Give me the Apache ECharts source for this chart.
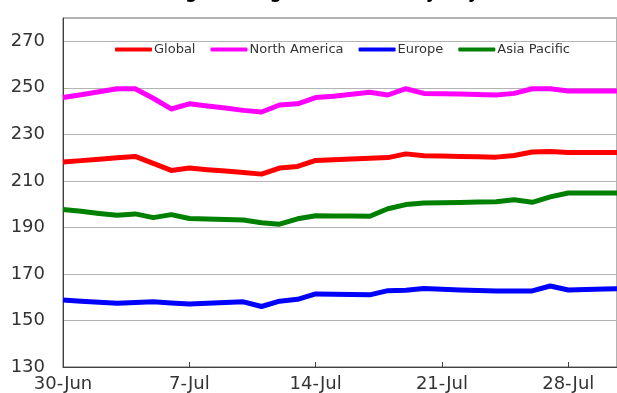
<!DOCTYPE html>
<html>
<head>
<meta charset="utf-8">
<script src="https://cdn.jsdelivr.net/npm/echarts@6/dist/echarts.min.js"></script>
<style>
  html, body { margin: 0; padding: 0; background: #fff; }
  #chart { width: 617px; height: 393px; }
</style>
</head>
<body>
<div id="chart"></div>
<script>
// Daily observation dates
const dates = [
  '2015-06-30','2015-07-01','2015-07-02','2015-07-03','2015-07-04','2015-07-05','2015-07-06','2015-07-07',
  '2015-07-08','2015-07-09','2015-07-10','2015-07-11','2015-07-12','2015-07-13','2015-07-14','2015-07-15',
  '2015-07-16','2015-07-17','2015-07-18','2015-07-19','2015-07-20','2015-07-21','2015-07-22','2015-07-23',
  '2015-07-24','2015-07-25','2015-07-26','2015-07-27','2015-07-28','2015-07-29','2015-07-30','2015-07-31'
];

const seriesNames = ['Global', 'North America', 'Europe', 'Asia Pacific'];

const globalValues = [
  218.1, 218.7, 219.3, 219.9, 220.5, 217.5, 214.5, 215.5,
  214.8, 214.2, 213.6, 212.9, 215.5, 216.2, 218.8, 219.1,
  219.4, 219.7, 220.0, 221.6, 220.8, 220.7, 220.5, 220.4,
  220.2, 220.9, 222.4, 222.6, 222.2, 222.2, 222.2, 222.2
];

const northAmericaValues = [
  245.8, 247.0, 248.3, 249.6, 249.6, 245.5, 240.9, 243.1,
  242.2, 241.3, 240.3, 239.6, 242.6, 243.1, 245.8, 246.4,
  247.2, 248.1, 246.9, 249.6, 247.6, 247.4, 247.3, 247.1,
  246.9, 247.6, 249.6, 249.6, 248.6, 248.6, 248.6, 248.6
];

const europeValues = [
  158.8, 158.3, 157.8, 157.4, 157.7, 158.0, 157.5, 157.1,
  157.4, 157.7, 158.0, 156.0, 158.3, 159.1, 161.4, 161.3,
  161.2, 161.0, 162.8, 163.0, 163.7, 163.4, 163.1, 162.9,
  162.7, 162.7, 162.7, 164.8, 163.1, 163.3, 163.5, 163.7
];

const asiaPacificValues = [
  197.7, 196.9, 196.0, 195.2, 195.8, 194.2, 195.5, 193.8,
  193.6, 193.4, 193.2, 192.0, 191.4, 193.7, 195.0, 194.9,
  194.9, 194.8, 198.0, 199.8, 200.5, 200.6, 200.7, 200.9,
  201.0, 201.9, 200.8, 203.1, 204.8, 204.8, 204.8, 204.8
];

const xTickLabels = ['30-Jun', '7-Jul', '14-Jul', '21-Jul', '28-Jul'];
const colors = ['#FF0000', '#FF00FF', '#0000FF', '#008000'];

const DAY = 86400000;
const t0 = Date.parse(dates[0]);
const dayIndex = dates.map(d => Math.round((Date.parse(d) - t0) / DAY));
const pairs = vals => vals.map((v, i) => [dayIndex[i], v]);

const FONT = 'DejaVu Sans';

const chart = echarts.init(document.getElementById('chart'), null, { renderer: 'canvas' });

chart.setOption({
  animation: false,
  backgroundColor: '#fff',
  title: {
    text: 'Average Pricing (Index Value by Day)',
    left: 'center',
    top: -20,
    textStyle: { fontFamily: FONT, fontSize: 17, fontWeight: 'bold', color: '#000' }
  },
  grid: {
    left: 63, top: 18, right: 0, bottom: 25,
    show: true, borderColor: '#666', borderWidth: 1, backgroundColor: 'transparent'
  },
  legend: {
    data: seriesNames,
    left: 110, top: 38,
    itemWidth: 37, itemHeight: 4, itemGap: 15,
    icon: 'roundRect',
    textStyle: { fontFamily: FONT, fontSize: 13, color: '#333', padding: [0, 0, 0, -3] }
  },
  xAxis: {
    type: 'value',
    min: 0, max: 30.7, interval: 7,
    axisLine: { lineStyle: { color: '#404040', width: 1 } },
    axisTick: { inside: true, length: 5, lineStyle: { color: '#404040' } },
    splitLine: { show: false },
    axisLabel: {
      fontFamily: FONT, fontSize: 18, color: '#333', margin: 8,
      showMaxLabel: false,
      formatter: v => (v % 7 === 0 ? (xTickLabels[v / 7] || '') : '')
    }
  },
  yAxis: {
    type: 'value',
    min: 130, max: 280, interval: 20,
    axisLine: { show: true, lineStyle: { color: '#404040', width: 1 } },
    axisTick: { show: false },
    splitLine: { lineStyle: { color: '#b4b4b4', width: 1 } },
    axisLabel: {
      fontFamily: FONT, fontSize: 18, color: '#333', margin: 18,
      showMaxLabel: false
    }
  },
  series: [
    { name: seriesNames[0], data: pairs(globalValues), color: colors[0] },
    { name: seriesNames[1], data: pairs(northAmericaValues), color: colors[1] },
    { name: seriesNames[2], data: pairs(europeValues), color: colors[2] },
    { name: seriesNames[3], data: pairs(asiaPacificValues), color: colors[3] }
  ].map(s => Object.assign({
    type: 'line',
    symbol: 'none',
    clip: true,
    lineStyle: { width: 5, color: s.color, join: 'round' },
    itemStyle: { color: s.color }
  }, s))
});
</script>
</body>
</html>
